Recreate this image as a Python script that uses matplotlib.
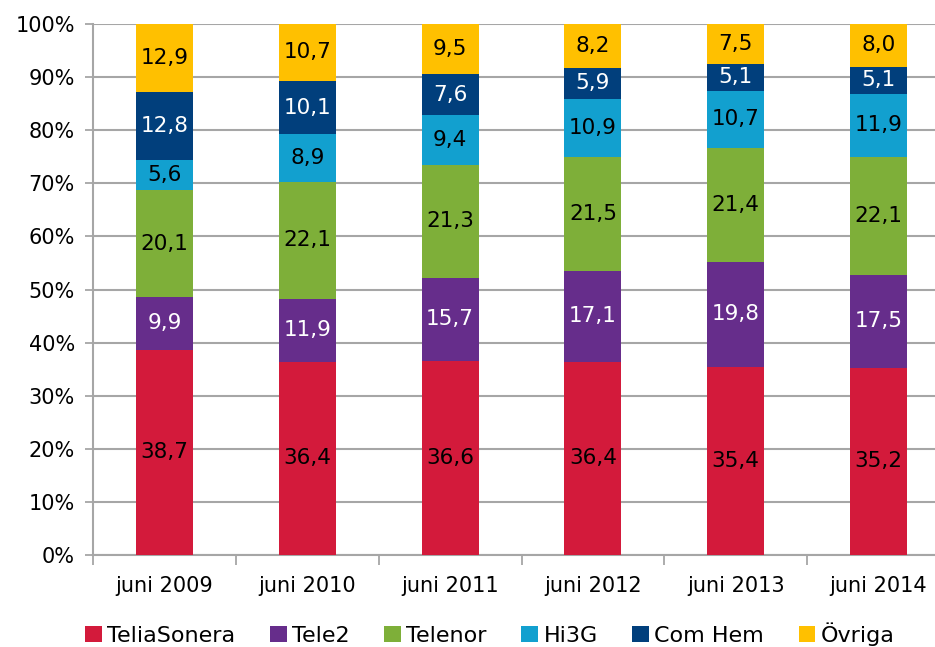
import numpy as np
import matplotlib
matplotlib.use("Agg")
import matplotlib.pyplot as plt
from matplotlib.ticker import FixedLocator, PercentFormatter

plt.rcParams["font.family"] = ["DejaVu Sans"]

categories = ["juni 2009", "juni 2010", "juni 2011", "juni 2012", "juni 2013", "juni 2014"]
series = ["TeliaSonera", "Tele2", "Telenor", "Hi3G", "Com Hem", "Övriga"]
telia = [38.7, 36.4, 36.6, 36.4, 35.4, 35.2]
tele2 = [9.9, 11.9, 15.7, 17.1, 19.8, 17.5]
telenor = [20.1, 22.1, 21.3, 21.5, 21.4, 22.1]
hi3g = [5.6, 8.9, 9.4, 10.9, 10.7, 11.9]
comhem = [12.8, 10.1, 7.6, 5.9, 5.1, 5.1]
ovriga = [12.9, 10.7, 9.5, 8.2, 7.5, 8.0]

colors = ["#D31A3B", "#662D8B", "#7EAF39", "#12A0CF", "#013F7C", "#FFC000"]
text_colors = ["black", "white", "black", "black", "white", "black"]

values = np.array([telia, tele2, telenor, hi3g, comhem, ovriga])
shares = values / values.sum(axis=0) * 100

fig = plt.figure(figsize=(9.35, 6.47), dpi=100)
ax = fig.add_axes([93 / 935, 1 - 555 / 647, (950 - 93) / 935, (555 - 24) / 647])

x = np.arange(len(categories))
bottom = np.zeros(len(categories))
for k, name in enumerate(series):
    bars = ax.bar(x, shares[k], 0.4, bottom=bottom, color=colors[k], label=name, zorder=3)
    for i, b in enumerate(bars):
        ax.text(b.get_x() + b.get_width() / 2, bottom[i] + shares[k][i] / 2,
                f"{values[k][i]:.1f}".replace(".", ","), ha="center", va="center",
                fontsize=15.5, color=text_colors[k], zorder=4)
    bottom += shares[k]

ax.set_xlim(-0.5, len(categories) - 0.5)
ax.set_ylim(0, 100)
ax.yaxis.set_major_locator(FixedLocator(np.arange(0, 101, 10)))
ax.yaxis.set_major_formatter(PercentFormatter(decimals=0))
ax.grid(axis="y", color="#A6A6A6", linewidth=1.5, zorder=0)
ax.set_axisbelow(True)

ax.set_xticks(x)
ax.set_xticklabels(categories)
ax.xaxis.set_minor_locator(FixedLocator(np.arange(-0.5, len(categories), 1)))
ax.tick_params(axis="x", which="major", length=0, pad=15, labelsize=15)
ax.tick_params(axis="x", which="minor", length=7, width=1.3, color="#A6A6A6", direction="out")
ax.tick_params(axis="y", length=6, width=1.3, color="#A6A6A6", pad=7, labelsize=15)

for s in ["top", "right"]:
    ax.spines[s].set_visible(False)
for s in ["left", "bottom"]:
    ax.spines[s].set_color("#A6A6A6")
    ax.spines[s].set_linewidth(1.5)

handles, labels = ax.get_legend_handles_labels()
fig.legend(handles, labels, loc="center", bbox_to_anchor=(0.524, 1 - 634 / 647), ncol=6,
           frameon=False, fontsize=16, handlelength=0.75, handleheight=0.75,
           handletextpad=0.25, columnspacing=1.55, borderpad=0)

fig.savefig("out.png", dpi=100)
